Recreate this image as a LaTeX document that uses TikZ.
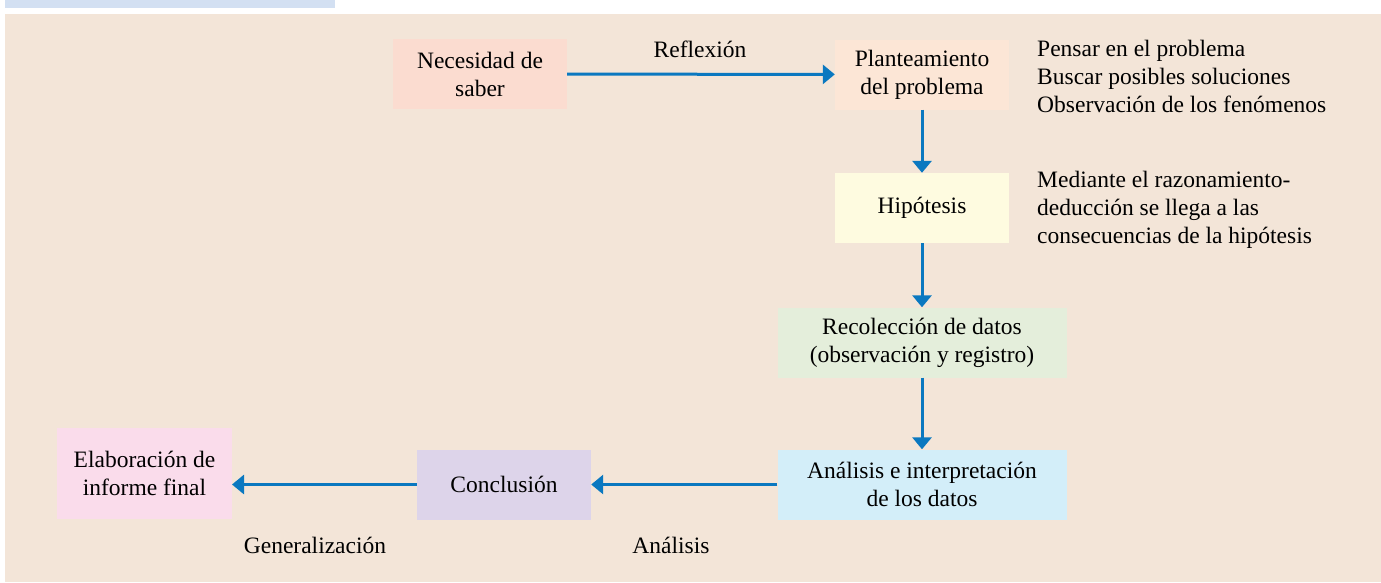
\documentclass[tikz,border=0pt]{standalone}
\usepackage{fontspec}
\setmainfont{Liberation Serif}
\usetikzlibrary{arrows.meta}
\definecolor{bgc}{HTML}{F3E5D8}
\definecolor{barc}{HTML}{D3E0F2}
\definecolor{arc}{HTML}{0A78C0}
\definecolor{cNec}{HTML}{FBDCD0}
\definecolor{cPla}{HTML}{FCE6D6}
\definecolor{cHip}{HTML}{FEFBE0}
\definecolor{cRec}{HTML}{E4EEDB}
\definecolor{cAna}{HTML}{D3EEF9}
\definecolor{cCon}{HTML}{DDD4EA}
\definecolor{cEla}{HTML}{FADCEB}
\tikzset{
  x=1pt,y=-1pt,
  txt/.style={font=\fontsize{23.5}{28}\selectfont, inner sep=0pt},
  boxn/.style={txt, align=center, minimum width=#1, minimum height=70pt},
  flow/.style={draw=arc, line width=3pt, -{Triangle[length=12pt,width=19pt]}},
  side/.style={txt, align=left, anchor=north west},
  lbl/.style={txt, anchor=base}
}
\begin{document}
\begin{tikzpicture}
\useasboundingbox (0,0) rectangle (1381,582);
\fill[barc] (5,0) rectangle (335,8);
\fill[bgc] (5,14) rectangle (1381,582);
\node[boxn=174pt, fill=cNec] (nec) at (480,74) {Necesidad de\\saber};
\node[boxn=174pt, fill=cPla] (pla) at (922,74.5) {Planteamiento\\del problema};
\node[boxn=174pt, fill=cHip] (hip) at (922,208) {Hipótesis};
\node[boxn=289pt, fill=cRec] (rec) at (922,342.5) {Recolección de datos\\(observación y registro)};
\node[boxn=289pt, fill=cAna] (ana) at (922,484.5) {Análisis e interpretación\\de los datos};
\node[boxn=174pt, fill=cCon] (con) at (504,484.5) {Conclusión};
\node[boxn=175pt, minimum height=91pt, fill=cEla] (ela) at (144.5,473.5) {Elaboración de\\informe final};
\coordinate (elaR) at (232,484.5);
\draw[flow] (nec) -- (pla);
\draw[flow] (pla) -- (hip);
\draw[flow] (hip) -- (rec);
\draw[flow] (rec) -- (ana);
\draw[flow] (ana) -- (con);
\draw[flow] (con.west) -- (elaR);
\node[lbl] (refl) at (700,57) {Reflexión};
\node[lbl] (gen) at (315,553) {Generalización};
\node[lbl] (anl) at (671,553) {Análisis};
\node[side] (s1) at (1037,40) {Pensar en el problema\\Buscar posibles soluciones\\Observación de los fenómenos};
\node[side] (s2) at (1037,171) {Mediante el razonamiento-\\deducción se llega a las\\consecuencias de la hipótesis};
\end{tikzpicture}
\end{document}
